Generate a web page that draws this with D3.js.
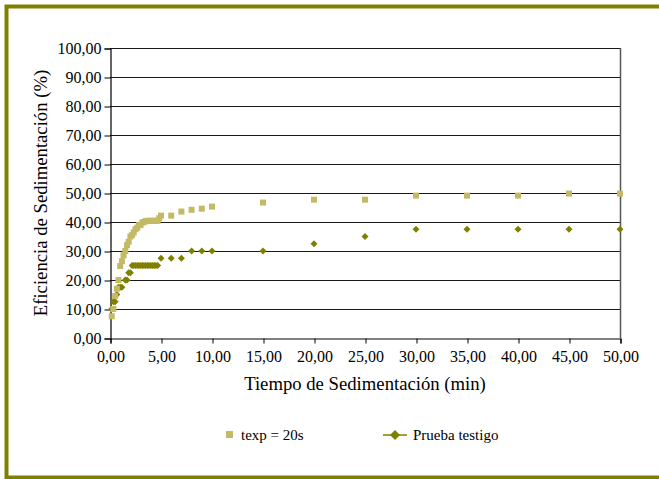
<!DOCTYPE html>
<html>
<head>
<meta charset="utf-8">
<script src="https://cdn.jsdelivr.net/npm/d3@7"></script>
<style>
  body { margin: 0; background: #fff; }
</style>
</head>
<body>
<div id="chart"></div>
<script>
// tiempos (min) y eficiencias (%)
const tiempoTexp = [0.17, 0.33, 0.5, 0.67, 0.83, 1, 1.17, 1.33, 1.5, 1.67, 1.83, 2, 2.17, 2.33, 2.5, 2.67, 2.83, 3,
    3.17, 3.33, 3.5, 3.67, 3.83, 4, 4.17, 4.33, 4.5, 4.67, 4.83, 5, 6, 7, 8, 9, 10, 15, 20, 25, 30, 35, 40, 45, 50];
const eficTexp = [7.5, 10, 14.5, 17, 20, 24.8, 26.5, 28.5, 30, 32, 33.2, 35, 35.5, 36.4, 37.5, 38, 38.9, 39,
    39.8, 40, 40.3, 40.4, 40.4, 40.4, 40.4, 40.4, 40.4, 40.4, 41.3, 42.2, 42.2, 43.6, 44.2, 44.6, 45.3, 46.7, 47.7, 47.7, 49.1, 49.1, 49.1, 49.8, 49.8];

const tiempoTestigo = [0.17, 0.33, 0.5, 0.67, 0.83, 1, 1.17, 1.5, 1.67, 1.83, 2, 2.17, 2.33, 2.5, 2.67, 2.83, 3,
    3.17, 3.33, 3.5, 3.67, 3.83, 4, 4.17, 4.33, 4.5, 4.67, 5, 6, 7, 8, 9, 10, 15, 20, 25, 30, 35, 40, 45, 50];
const eficTestigo = [10, 12.5, 12.5, 15, 17.5, 17.5, 17.5, 20, 20, 22.5, 22.5, 25, 25, 25, 25, 25, 25,
    25, 25, 25, 25, 25, 25, 25, 25, 25, 25, 27.5, 27.5, 27.5, 30, 30, 30, 30, 32.5, 35, 37.5, 37.5, 37.5, 37.5, 37.5];

const xTicks = [0, 5, 10, 15, 20, 25, 30, 35, 40, 45, 50];
const yTicks = [0, 10, 20, 30, 40, 50, 60, 70, 80, 90, 100];
const nombres = ["texp = 20s", "Prueba testigo"];

const colorTexp = "#c4ba66";
const colorTestigo = "#808000";
const serif = "'Liberation Serif', 'Times New Roman', 'DejaVu Serif', serif";

const svg = d3.select("#chart").append("svg")
    .attr("width", 659)
    .attr("height", 479)
    .attr("font-family", serif);

// marco exterior
svg.append("rect")
    .attr("x", 6.5).attr("y", 6.5)
    .attr("width", 700).attr("height", 471)
    .attr("fill", "none")
    .attr("stroke", "#808000")
    .attr("stroke-width", 4);

const x = d3.scaleLinear().domain([0, 50]).range([110, 620]);
const y = d3.scaleLinear().domain([0, 100]).range([338, 48]);

const fmt = d => d3.format(".2f")(d).replace(".", ",");

// rejilla
svg.append("g").selectAll("line")
    .data(yTicks.filter(d => d > 0))
    .join("line")
    .attr("x1", x(0)).attr("x2", x(50))
    .attr("y1", d => Math.round(y(d)) + 0.5)
    .attr("y2", d => Math.round(y(d)) + 0.5)
    .attr("stroke", "#1a1a1a")
    .attr("stroke-width", 1);

// borde derecho del área de trazado
svg.append("line")
    .attr("x1", x(50) + 0.5).attr("x2", x(50) + 0.5)
    .attr("y1", y(100)).attr("y2", y(0))
    .attr("stroke", "#555")
    .attr("stroke-width", 1.5);

// ejes
const yAxis = svg.append("g")
    .attr("transform", `translate(${x(0) + 0.5},0.5)`)
    .call(d3.axisLeft(y).tickValues(yTicks).tickFormat(fmt).tickSize(6).tickPadding(3));

const xAxis = svg.append("g")
    .attr("transform", `translate(0.5,${y(0) + 0.5})`)
    .call(d3.axisBottom(x).tickValues(xTicks).tickFormat(fmt).tickSize(5).tickPadding(7));

[yAxis, xAxis].forEach(a => {
    a.attr("font-family", serif);
    a.select(".domain").attr("stroke", "#000").attr("stroke-width", 1.2);
    a.selectAll(".tick line").attr("stroke", "#000");
    a.selectAll("text").attr("font-size", 16).attr("fill", "#000");
});

// títulos
svg.append("text")
    .attr("transform", `translate(47,${(y(0) + y(100)) / 2}) rotate(-90)`)
    .attr("text-anchor", "middle")
    .attr("font-size", 18.7)
    .text("Eficiencia de Sedimentación (%)");

svg.append("text")
    .attr("x", (x(0) + x(50)) / 2)
    .attr("y", 390)
    .attr("text-anchor", "middle")
    .attr("font-size", 18.7)
    .text("Tiempo de Sedimentación (min)");

// series
const serieTexp = tiempoTexp.map((t, i) => ({ t: t, v: eficTexp[i] }));
const serieTestigo = tiempoTestigo.map((t, i) => ({ t: t, v: eficTestigo[i] }));

const diamante = r => `M0,${-r}L${r},0L0,${r}L${-r},0Z`;

svg.append("g").selectAll("path")
    .data(serieTestigo)
    .join("path")
    .attr("d", diamante(3.5))
    .attr("transform", d => `translate(${x(d.t)},${y(d.v)})`)
    .attr("fill", colorTestigo);

svg.append("g").selectAll("rect")
    .data(serieTexp)
    .join("rect")
    .attr("x", d => x(d.t) - 3)
    .attr("y", d => y(d.v) - 3)
    .attr("width", 6)
    .attr("height", 6)
    .attr("fill", colorTexp);

// leyenda
const legend = svg.append("g");
legend.append("rect")
    .attr("x", 226).attr("y", 431)
    .attr("width", 7).attr("height", 7)
    .attr("fill", colorTexp);
legend.append("text")
    .attr("x", 241).attr("y", 440)
    .attr("font-size", 15)
    .text(nombres[0]);

legend.append("line")
    .attr("x1", 383).attr("x2", 407)
    .attr("y1", 435).attr("y2", 435)
    .attr("stroke", colorTestigo)
    .attr("stroke-width", 1.5);
legend.append("path")
    .attr("d", diamante(5))
    .attr("transform", "translate(395,435)")
    .attr("fill", colorTestigo);
legend.append("text")
    .attr("x", 413).attr("y", 440)
    .attr("font-size", 15)
    .text(nombres[1]);
</script>
</body>
</html>
